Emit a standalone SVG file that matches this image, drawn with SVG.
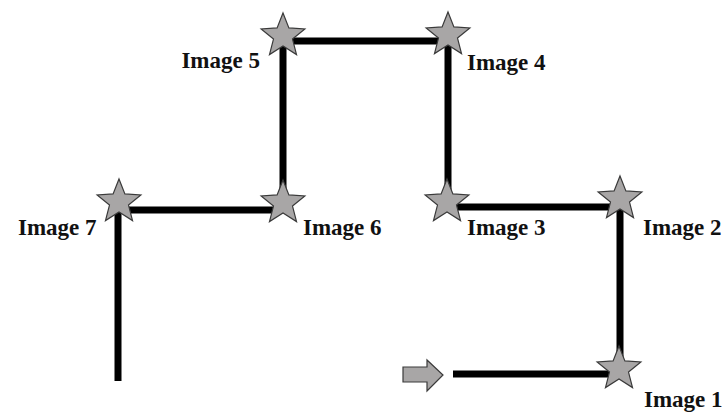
<svg xmlns="http://www.w3.org/2000/svg" width="726" height="412" viewBox="0 0 726 412">
<style>
.seg{stroke:#000;stroke-width:7;fill:none;stroke-linecap:butt}
.star{fill:#a8a6a6;stroke:#3a3a3a;stroke-width:1.2;stroke-linejoin:miter}
.lbl{font-family:"Liberation Serif","Times New Roman",serif;font-weight:bold;font-size:23px;fill:#111}
</style>
<defs>
<path id="star" d="M0,-23 L5.88,-8.09 L21.87,-7.11 L9.51,3.09 L13.52,18.61 L0,10 L-13.52,18.61 L-9.51,3.09 L-21.87,-7.11 L-5.88,-8.09 Z"/>
</defs>
<rect width="726" height="412" fill="#fff"/>
<g id="connectors">
<path class="seg" d="M453,374 H620"/>
<path class="seg" d="M620,374 V206"/>
<path class="seg" d="M620,207 H447"/>
<path class="seg" d="M448,207 V37"/>
<path class="seg" d="M448,41 H283"/>
<path class="seg" d="M283,40 V210"/>
<path class="seg" d="M283,210 H118"/>
<path class="seg" d="M118,210 V381"/>
</g>
<g id="start-arrow">
<polygon points="403,367 427,367 427,360 443,375 427,391 427,382 403,382" fill="#a8a6a6" stroke="#3a3a3a" stroke-width="1.2"/>
</g>
<g id="image1"><use href="#star" class="star" transform="translate(619,369)"/><text class="lbl" x="644" y="407">Image 1</text></g>
<g id="image2"><use href="#star" class="star" transform="translate(620,199)"/><text class="lbl" x="643" y="235">Image 2</text></g>
<g id="image3"><use href="#star" class="star" transform="translate(447,202)"/><text class="lbl" x="467" y="235">Image 3</text></g>
<g id="image4"><use href="#star" class="star" transform="translate(448,35)"/><text class="lbl" x="467" y="70">Image 4</text></g>
<g id="image5"><use href="#star" class="star" transform="translate(283,36)"/><text class="lbl" x="260" y="68" text-anchor="end">Image 5</text></g>
<g id="image6"><use href="#star" class="star" transform="translate(283,203)"/><text class="lbl" x="303" y="235">Image 6</text></g>
<g id="image7"><use href="#star" class="star" transform="translate(119,202)"/><text class="lbl" x="18" y="235">Image 7</text></g>
</svg>
